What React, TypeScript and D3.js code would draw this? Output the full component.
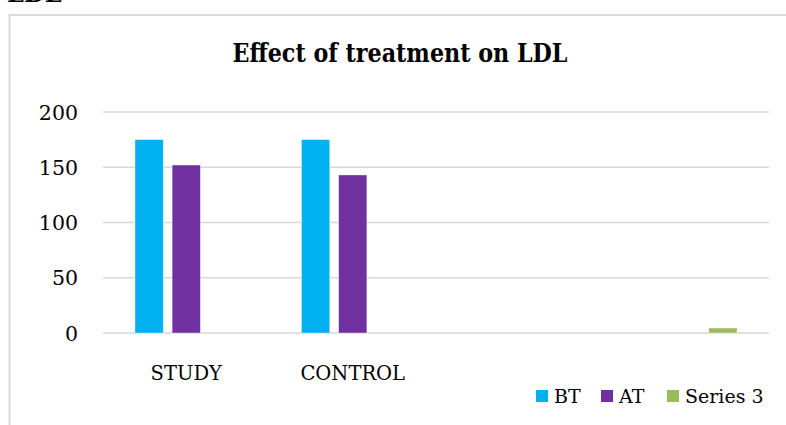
import React, { useEffect, useRef } from 'react';
import * as d3 from 'd3';

const categories = ['STUDY', 'CONTROL', '', ' '];
const seriesNames = ['BT', 'AT', 'Series 3'];
const btValues = [175, 175, null, null];
const atValues = [152, 143, null, null];
const series3Values = [null, null, null, 4.5];
const yTicks = [0, 50, 100, 150, 200];
const colors = ['#00b0f0', '#7030a0', '#9bbb59'];

const FONT = '"DejaVu Serif", serif';

const App: React.FC = () => {
  const svgRef = useRef<SVGSVGElement>(null);

  useEffect(() => {
    if (!svgRef.current) return;
    const svg = d3.select(svgRef.current);
    svg.selectAll('*').remove();

    const width = 786;
    const height = 425;
    const plot = { left: 103, right: 769, top: 112, bottom: 333 };

    svg.attr('width', width).attr('height', height);

    // heading of the page section, cut off by the top edge
    svg.append('text')
      .attr('x', 7)
      .attr('y', 2)
      .attr('font-family', FONT)
      .attr('font-weight', 'bold')
      .attr('font-size', 24)
      .text('LDL');

    // chart frame (only top and left visible)
    svg.append('path')
      .attr('d', `M9.5,${height} L9.5,15 L${width},15`)
      .attr('fill', 'none')
      .attr('stroke', '#d9d9d9')
      .attr('stroke-width', 2);

    // title
    svg.append('text')
      .attr('x', 400)
      .attr('y', 62)
      .attr('text-anchor', 'middle')
      .attr('font-family', FONT)
      .attr('font-weight', 'bold')
      .attr('font-size', 25.5)
      .attr('textLength', 335)
      .attr('lengthAdjust', 'spacingAndGlyphs')
      .text('Effect of treatment on LDL');

    const y = d3.scaleLinear().domain([0, 200]).range([plot.bottom, plot.top]);
    const x0 = d3.scaleBand<string>().domain(categories).range([plot.left, plot.right]);
    const x1 = d3.scaleBand<string>()
      .domain(seriesNames)
      .range([32, x0.bandwidth() - 32])
      .paddingInner(0.24);

    // gridlines
    svg.append('g')
      .selectAll('line')
      .data(yTicks)
      .enter()
      .append('line')
      .attr('x1', plot.left)
      .attr('x2', plot.right)
      .attr('y1', d => y(d))
      .attr('y2', d => y(d))
      .attr('stroke', '#d9d9d9')
      .attr('stroke-width', 1.5);

    // y tick labels
    svg.append('g')
      .selectAll('text')
      .data(yTicks)
      .enter()
      .append('text')
      .attr('x', 78)
      .attr('y', d => y(d) + 7.5)
      .attr('text-anchor', 'end')
      .attr('font-family', FONT)
      .attr('font-size', 20.5)
      .attr('fill', '#000')
      .text(d => d);

    const allSeries = [btValues, atValues, series3Values];
    allSeries.forEach((vals, si) => {
      svg.append('g')
        .selectAll('rect')
        .data(vals.map((v, ci) => ({ v, c: categories[ci] })).filter(d => d.v !== null))
        .enter()
        .append('rect')
        .attr('x', d => (x0(d.c) || 0) + (x1(seriesNames[si]) || 0))
        .attr('y', d => y(d.v as number))
        .attr('width', x1.bandwidth())
        .attr('height', d => plot.bottom - y(d.v as number))
        .attr('fill', colors[si])
        .attr('stroke', '#ffffff')
        .attr('stroke-opacity', 0.5)
        .attr('stroke-width', 0.75);
    });

    // category labels
    svg.append('g')
      .selectAll('text')
      .data(categories)
      .enter()
      .append('text')
      .attr('x', d => (x0(d) || 0) + x0.bandwidth() / 2)
      .attr('y', 380)
      .attr('text-anchor', 'middle')
      .attr('font-family', FONT)
      .attr('font-size', 19.5)
      .text(d => d.trim());

    // legend
    const legendX = [536, 601, 667];
    const legend = svg.append('g');
    seriesNames.forEach((name, i) => {
      legend.append('rect')
        .attr('x', legendX[i])
        .attr('y', 390)
        .attr('width', 12)
        .attr('height', 12)
        .attr('fill', colors[i]);
      legend.append('text')
        .attr('x', legendX[i] + 18)
        .attr('y', 403)
        .attr('font-family', FONT)
        .attr('font-size', 19)
        .text(name);
    });
  }, []);

  return (
    <div style={{ position: 'absolute', left: 0, top: 0 }}>
      <svg ref={svgRef} style={{ display: 'block' }}></svg>
    </div>
  );
};

export default App;
